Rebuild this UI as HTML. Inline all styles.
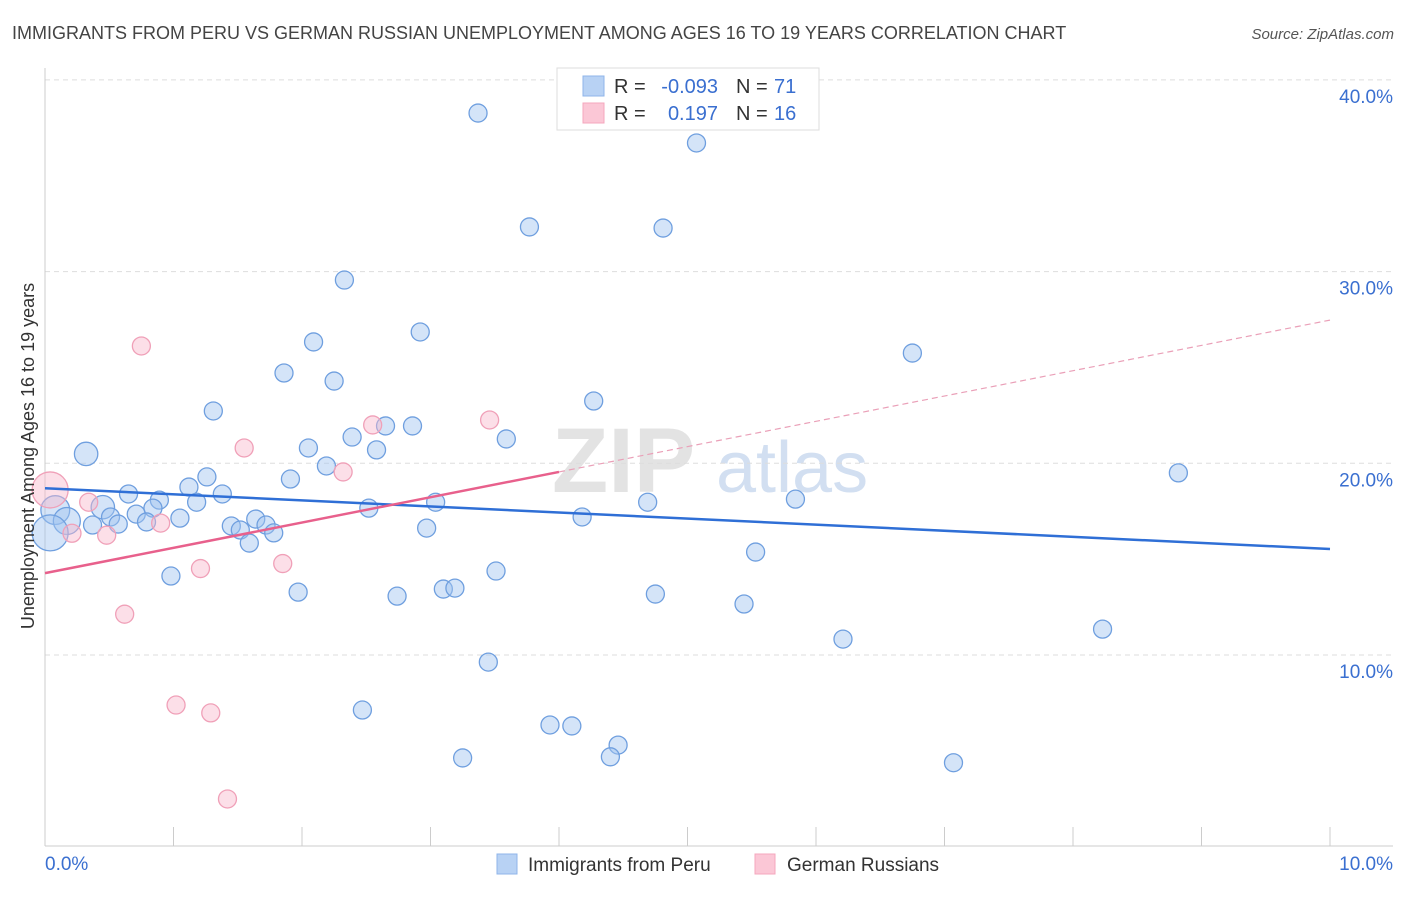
<!DOCTYPE html>
<html><head><meta charset="utf-8">
<style>
body{margin:0;background:#fff;font-family:"Liberation Sans",sans-serif;}
svg text{font-family:"Liberation Sans",sans-serif;}
</style></head>
<body>
<svg id="chart" width="1406" height="892" xmlns="http://www.w3.org/2000/svg">
<text x="12" y="39" font-size="18" fill="#444">IMMIGRANTS FROM PERU VS GERMAN RUSSIAN UNEMPLOYMENT AMONG AGES 16 TO 19 YEARS CORRELATION CHART</text>
<text x="1394" y="39" font-size="15" fill="#555" text-anchor="end" font-style="italic">Source: ZipAtlas.com</text>
<g>
<text x="552" y="492" font-size="92" fill="#ddd" font-family="Liberation Serif" font-weight="bold" opacity="0.8">ZIP</text>
<text x="716" y="492" font-size="72" fill="#c8d8ee" opacity="0.8">atlas</text>
</g>
<g id="grid"></g>
<g id="axes"></g>
<g id="marks"></g>
<g>
<rect x="557" y="68" width="262" height="62" fill="#fff" stroke="#ddd"/>
<rect x="583" y="76" width="21" height="20" fill="#b8d2f4" stroke="#8fb4ea"/>
<rect x="583" y="103" width="21" height="20" fill="#fbc7d6" stroke="#f4a7bd"/>
<text x="614" y="93" font-size="20" fill="#333">R =</text>
<text x="718" y="93" font-size="20" fill="#3a6fd0" text-anchor="end">-0.093</text>
<text x="736" y="93" font-size="20" fill="#333">N =</text>
<text x="774" y="93" font-size="20" fill="#3a6fd0">71</text>
<text x="614" y="120" font-size="20" fill="#333">R =</text>
<text x="718" y="120" font-size="20" fill="#3a6fd0" text-anchor="end">0.197</text>
<text x="736" y="120" font-size="20" fill="#333">N =</text>
<text x="774" y="120" font-size="20" fill="#3a6fd0">16</text>
</g>
<g>
<rect x="497" y="854" width="20" height="20" fill="#b8d2f4" stroke="#8fb4ea"/>
<text x="528" y="871" font-size="19" fill="#333">Immigrants from Peru</text>
<rect x="755" y="854" width="20" height="20" fill="#fbc7d6" stroke="#f4a7bd"/>
<text x="787" y="871" font-size="19" fill="#333">German Russians</text>
</g>
<text transform="translate(34,456) rotate(-90)" font-size="18" fill="#333" text-anchor="middle">Unemployment Among Ages 16 to 19 years</text>
</svg>
<script>
const yTicks=[10,20,30,40];
const yTickLabels=["10.0%","20.0%","30.0%","40.0%"];
const xTickLabels=["0.0%","10.0%"];
const blueX=[3.37,5.07,3.77,4.81,2.33,2.92,2.09,6.75,1.86,2.25,4.27,1.31,2.65,2.86,2.39,3.59,2.05,2.58,0.32,2.19,8.82,1.26,1.91,1.12,1.38,0.65,0.89,5.84,4.69,3.04,1.18,0.84,0.45,2.52,0.08,0.71,0.51,1.05,4.18,0.17,1.64,0.79,0.37,0.57,1.45,1.72,2.97,1.52,1.78,0.04,1.59,5.53,3.51,0.98,3.1,3.19,1.97,2.74,4.75,5.44,8.23,6.21,3.45,2.47,3.93,4.1,4.46,3.25,4.4,7.07];
const blueY=[38.27,36.71,32.33,32.27,29.56,26.85,26.33,25.75,24.71,24.29,23.25,22.73,21.95,21.95,21.37,21.27,20.8,20.7,20.49,19.86,19.5,19.29,19.18,18.76,18.4,18.4,18.08,18.13,17.97,17.97,17.97,17.66,17.71,17.66,17.56,17.35,17.2,17.14,17.2,16.99,17.09,16.94,16.78,16.83,16.73,16.78,16.62,16.52,16.37,16.37,15.84,15.37,14.38,14.12,13.44,13.49,13.28,13.07,13.18,12.66,11.35,10.83,9.63,7.13,6.35,6.3,5.3,4.63,4.69,4.38];
const blueSize=[1,1,1,1,1,1,1,1,1,1,1,1,1,1,1,1,1,1,1.3,1,1,1,1,1,1,1,1,1,1,1,1,1,1.3,1,1.6,1,1,1,1,1.5,1,1,1,1,1,1,1,1,1,2,1,1,1,1,1,1,1,1,1,1,1,1,1,1,1,1,1,1,1,1];
const pinkX=[0.75,3.46,2.55,1.55,2.32,0.04,0.34,0.9,0.21,0.48,1.85,1.21,0.62,1.02,1.29,1.42];
const pinkY=[26.12,22.26,22.0,20.8,19.55,18.61,17.97,16.88,16.35,16.25,14.77,14.51,12.13,7.39,6.98,2.49];
const pinkSize=[1,1,1,1,1,2,1,1,1,1,1,1,1,1,1,1];
const blueTrend=[18.7,15.53];
const pinkTrend=[14.27,27.47];
const pinkSolidEnd=4.0;

const NS="http://www.w3.org/2000/svg";
const X0=45,X1=1330,Y0=846.7,PER=19.17;
const sx=v=>X0+(X1-X0)*v/10;
const sy=v=>Y0-v*PER;
function mk(tag,attrs,parent){const e=document.createElementNS(NS,tag);for(const k in attrs)e.setAttribute(k,attrs[k]);parent.appendChild(e);return e;}
const grid=document.getElementById('grid'),axes=document.getElementById('axes'),marks=document.getElementById('marks');
yTicks.forEach((t,i)=>{
  const l=mk('line',{x1:X0,x2:1393,y1:sy(t),y2:sy(t),stroke:'#ddd','stroke-dasharray':'5,4'},grid);
  
  
  const tx=mk('text',{x:1393,y:sy(t)+23,'font-size':19,fill:'#3a6fd0','text-anchor':'end'},grid);
  tx.textContent=yTickLabels[i];
  
  
});
const ax=mk('line',{x1:X0,x2:X0,y1:68,y2:846,stroke:'#ccc'},axes);


const bx=mk('line',{x1:X0,x2:1393,y1:846,y2:846,stroke:'#ccc'},axes);


for(let i=1;i<=10;i++){
  const t=mk('line',{x1:sx(i),x2:sx(i),y1:827,y2:846,stroke:'#ccc'},axes);
  
  
}
[[0,'start',45],[10,'end',1393]].forEach((d,i)=>{
  const t=mk('text',{x:d[2],y:870,'font-size':19,fill:'#3a6fd0','text-anchor':d[1]},axes);
  t.textContent=xTickLabels[i];
  
  
});
blueX.forEach((x,i)=>{
  const c=mk('circle',{cx:sx(x),cy:sy(blueY[i]),r:9*blueSize[i],fill:'rgba(160,196,240,0.45)',stroke:'#6f9fdf','stroke-width':1.3},marks);
  
  
});
pinkX.forEach((x,i)=>{
  const c=mk('circle',{cx:sx(x),cy:sy(pinkY[i]),r:9*pinkSize[i],fill:'rgba(248,184,204,0.45)',stroke:'#f0a0b8','stroke-width':1.3},marks);
  
  
});
const pAt=x=>pinkTrend[0]+(pinkTrend[1]-pinkTrend[0])*x/10;
const bl=mk('line',{x1:sx(0),y1:sy(blueTrend[0]),x2:sx(10),y2:sy(blueTrend[1]),stroke:'#2f6fd6','stroke-width':2.5},marks);


const pl=mk('line',{x1:sx(0),y1:sy(pAt(0)),x2:sx(pinkSolidEnd),y2:sy(pAt(pinkSolidEnd)),stroke:'#e8608c','stroke-width':2.5},marks);


const pd=mk('line',{x1:sx(pinkSolidEnd),y1:sy(pAt(pinkSolidEnd)),x2:sx(10),y2:sy(pAt(10)),stroke:'#eaa0b8','stroke-width':1.2,'stroke-dasharray':'6,4'},marks);


</script>
</body></html>
